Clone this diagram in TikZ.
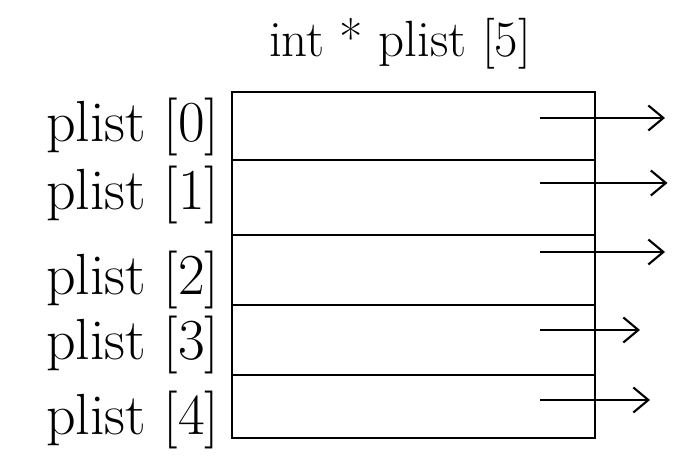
\documentclass[tikz,border=0pt]{standalone}
\usetikzlibrary{arrows.meta}
\tikzset{
  cell/.style={draw, line width=1.2pt, inner sep=0pt, minimum width=7.26cm},
  ptr/.style={line width=1.2pt, -{Straight Barb[length=3mm,width=5mm]}},
  lbl/.style={font=\fontsize{33}{36}\selectfont, anchor=east, inner sep=0pt}
}
\begin{document}
\begin{tikzpicture}[thick]
  \useasboundingbox (0,0) rectangle (13.5,9.42);
  % title over the array
  \node[font=\fontsize{29}{32}\selectfont] (title) at (8.0,8.55) {int * plist [5]};
  % the five slots: index / top / bottom
  \foreach \i/\t/\b in {0/7.58/6.22, 1/6.22/4.72, 2/4.72/3.32, 3/3.32/1.92, 4/1.92/0.66}{
    \node[cell, minimum height={(\t-\b)*1cm}] (c\i) at (8.27,{(\t+\b)/2}) {};
  }
  % names on the left
  \node[lbl] (n0) at (4.4,6.88) {plist [0]};
  \node[lbl] (n1) at (4.4,5.52) {plist [1]};
  \node[lbl] (n2) at (4.4,3.82) {plist [2]};
  \node[lbl] (n3) at (4.4,2.52) {plist [3]};
  \node[lbl] (n4) at (4.4,1.02) {plist [4]};
  % pointers leaving each slot
  \foreach \i/\y/\x in {0/7.06/13.3, 1/5.76/13.35, 2/4.38/13.3, 3/2.82/12.8, 4/1.42/13.0}{
    \coordinate (s\i) at (10.8,\y);
    \coordinate (e\i) at (\x,\y);
    \draw[ptr] (s\i) -- (e\i);
  }
\end{tikzpicture}
\end{document}
